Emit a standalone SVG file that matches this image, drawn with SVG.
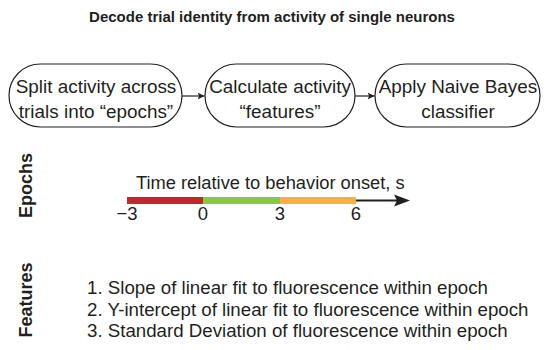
<svg xmlns="http://www.w3.org/2000/svg" width="544" height="350" viewBox="0 0 544 350">
<defs>
<style>
text{font-family:"Liberation Sans",Arial,sans-serif;fill:#231F20}
.title{font-size:15px;font-weight:bold}
.box{fill:#fff;stroke:#231F20;stroke-width:1.2}
.lbl{font-size:18.9px;text-anchor:middle}
.tick{font-size:18.5px;text-anchor:middle}
.side{font-size:18px;font-weight:bold;text-anchor:middle}
.axis{font-size:18.3px}
.feat{font-size:18.7px}
.conn{stroke:#231F20;stroke-width:1.2;fill:none}
</style>
<marker id="ah" viewBox="0 0 10 10" refX="10" refY="5" markerWidth="7" markerHeight="7" markerUnits="userSpaceOnUse" orient="auto"><path d="M0,0 L10,5 L0,10 L2.5,5 Z" fill="#231F20"/></marker>
</defs>
<rect width="544" height="350" fill="#fff"/>
<text class="title" x="272" y="22" text-anchor="middle">Decode trial identity from activity of single neurons</text>
<g id="node-split">
<rect class="box" x="9" y="64" width="173" height="63" rx="31.5"/>
<text class="lbl" x="96" y="93">Split activity across</text>
<text class="lbl" x="96" y="118">trials into “epochs”</text>
</g>
<g id="node-calc">
<rect class="box" x="205" y="64" width="150" height="63" rx="31.5"/>
<text class="lbl" x="280" y="93">Calculate activity</text>
<text class="lbl" x="280" y="118">“features”</text>
</g>
<g id="node-bayes">
<rect class="box" x="375" y="64" width="165" height="63" rx="31.5"/>
<text class="lbl" x="458" y="93">Apply Naive Bayes</text>
<text class="lbl" x="458" y="118">classifier</text>
</g>
<g id="connectors">
<line class="conn" x1="182" y1="96" x2="204.5" y2="96" marker-end="url(#ah)"/>
<line class="conn" x1="355" y1="96" x2="374.5" y2="96" marker-end="url(#ah)"/>
</g>
<text class="side" transform="translate(32,185.5) rotate(-90)">Epochs</text>
<text class="side" transform="translate(32,300) rotate(-90)">Features</text>
<g id="timeline">
<text class="axis" x="136" y="189">Time relative to behavior onset, s</text>
<line x1="356" y1="200.5" x2="398" y2="200.5" stroke="#231F20" stroke-width="2"/>
<path d="M410,200.5 L394,194.5 L397,200.5 L394,206.5 Z" fill="#231F20"/>
<rect x="127" y="197" width="76" height="7" fill="#C1272D"/>
<rect x="203" y="197" width="77" height="7" fill="#8DC63F"/>
<rect x="280" y="197" width="76" height="7" fill="#FBB040"/>
<text class="tick" x="127" y="220">−3</text>
<text class="tick" x="203" y="220">0</text>
<text class="tick" x="280" y="220">3</text>
<text class="tick" x="356" y="220">6</text>
</g>
<g id="features">
<text class="feat" x="87" y="294">1. Slope of linear fit to fluorescence within epoch</text>
<text class="feat" x="87" y="315.5">2. Y-intercept of linear fit to fluorescence within epoch</text>
<text class="feat" x="87" y="337">3. Standard Deviation of fluorescence within epoch</text>
</g>
</svg>
